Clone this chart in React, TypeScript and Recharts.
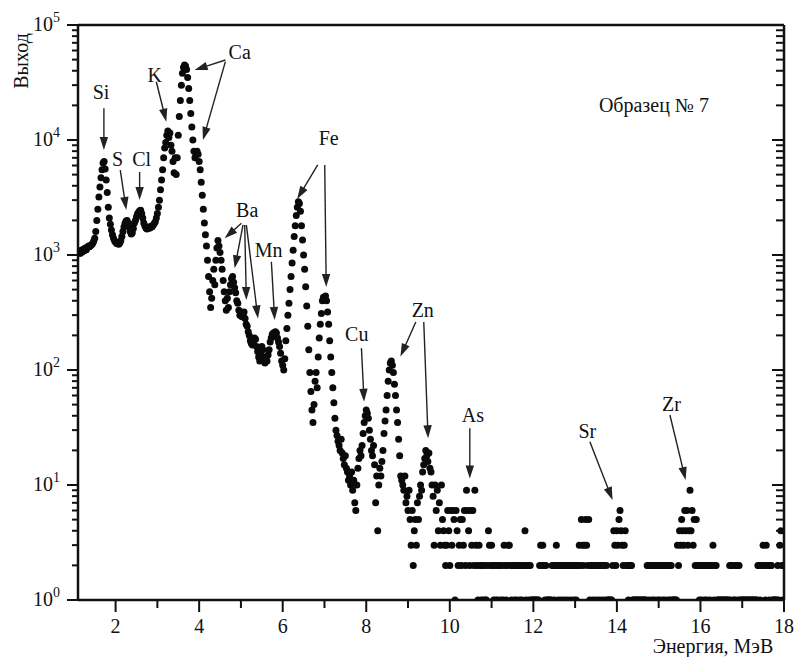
import React from 'react';
import { ScatterChart, Scatter, XAxis, YAxis, ReferenceLine, ReferenceDot } from 'recharts';

const FONT = 'Liberation Serif, Times New Roman, DejaVu Serif, serif';

// Detector calibration: first channel energy and channel width (MeV)
const E_FIRST = 1.1;
const E_STEP = 0.025;

// Counts per channel, grouped by 1 MeV
const counts_1_1 = [1050,1080,1030,1100,1060,1120,1090,1150,1110,1170,1200,1180,1210,1230,1260,1320,1400,1600,2000,2500,3200,3900,4700,5500,6300,6500,5600,4500,3500,2600,2100,1850,1650,1500,1400,1330];
const counts_2 = [1290,1260,1250,1240,1270,1330,1450,1600,1750,1880,1980,2000,1900,1750,1600,1520,1560,1700,1900,2000,2150,2280,2350,2420,2450,2300,2100,1900,1800,1720,1680,1700,1750,1720,1780,1760,1820,1880,1950,2100];
const counts_3 = [2300,2600,3000,3700,4500,5500,7000,8500,9500,11000,12000,10500,11500,9000,8000,6500,5200,7000,5000,7000,11000,16000,22000,30000,38000,43000,45000,44000,41000,35000,28000,22000,17000,13000,10000,8000,7000,7500,8000,7500];
const counts_4 = [6500,5500,4300,3300,2500,1900,1500,1200,900,650,480,350,420,600,750,550,900,1150,1340,1200,1050,900,750,600,480,400,330,420,350,480,550,620,650,580,520,470,400,380,330,300];
const counts_5 = [320,290,300,320,280,250,240,215,200,180,170,165,175,190,185,160,145,130,120,140,160,150,125,115,130,120,135,150,175,190,205,210,200,215,210,190,175,160,140,120];
const counts_6 = [110,100,125,180,230,300,380,500,650,850,1100,1450,1800,2200,2600,2900,2800,2400,1800,1350,1000,750,530,360,240,150,95,65,45,35,50,80,95,70,130,190,250,310,400,430];
const counts_7 = [420,440,400,320,250,180,130,95,70,52,38,30,27,24,22,20,25,19,17,15,18,14,13,11,12,10,13,9,11,7,6,10,14,17,20,18,22,28,35,40];
const counts_8 = [45,42,38,30,25,20,18,22,15,7,12,4,10,14,12,16,20,28,36,45,60,80,100,115,120,110,95,75,60,45,35,25,18,12,11,10,9,12,7,8];
const counts_9 = [6,9,5,3,6,2,4,5,3,7,5,8,10,9,13,15,17,20,18,16,19,14,13,10,8,3,10,6,9,4,7,3,10,5,4,3,2,3,6,4];
const counts_10 = [2,6,3,6,5,1,6,4,2,3,5,2,5,3,6,2,9,6,4,2,6,3,6,2,9,3,2,1,3,2,1,2,1,2,1,1,2,4,3,2];
const counts_11 = [3,2,1,2,1,2,1,2,2,1,2,1,3,2,1,2,3,3,2,1,2,2,1,2,1,2,2,1,2,1,2,2,4,1,2,2,1,2,1,1];
const counts_12 = [1,1,1,1,1,1,2,3,2,3,2,1,2,1,1,1,1,1,2,2,1,2,3,2,1,2,2,1,2,2,1,2,2,1,2,2,1,2,2,1];
const counts_13 = [2,1,2,2,3,2,5,3,2,3,5,3,2,5,1,2,2,1,2,2,1,2,2,1,2,2,1,2,2,1,2,1,1,1,1,1,2,4,3,2];
const counts_14 = [4,3,5,6,4,3,2,3,4,2,2,1,2,2,2,1,1,1,1,1,1,1,1,1,1,1,1,1,1,2,2,1,2,2,1,2,1,2,2,1];
const counts_15 = [2,1,2,2,1,2,1,2,2,1,2,1,2,1,1,1,1,1,3,2,4,3,5,4,3,6,4,6,3,4,9,4,6,3,5,2,5,2,2,1];
const counts_16 = [2,1,2,2,1,2,1,2,2,1,2,2,3,1,2,2,1,1,1,1,1,1,1,1,1,1,1,1,2,1,2,2,1,1,2,2,1,2,1,1];
const counts_17_18 = [1,1,1,1,1,1,1,1,1,1,1,1,1,1,1,2,2,1,2,2,3,2,1,3,2,2,1,2,2,1,1,1,1,1,2,1,3,4,2,1,2];

const allCounts = [
  ...counts_1_1, ...counts_2, ...counts_3, ...counts_4, ...counts_5, ...counts_6,
  ...counts_7, ...counts_8, ...counts_9, ...counts_10, ...counts_11, ...counts_12,
  ...counts_13, ...counts_14, ...counts_15, ...counts_16, ...counts_17_18,
];
const spectrum = allCounts.map((n, i) => ({ e: Math.round((E_FIRST + i * E_STEP) * 1000) / 1000, n }));

// Axis ticks
const xTicks = [2, 3, 4, 5, 6, 7, 8, 9, 10, 11, 12, 13, 14, 15, 16, 17, 18];
const xLabelled = [2, 4, 6, 8, 10, 12, 14, 16, 18];
const yDecades = [1, 10, 100, 1000, 10000, 100000];
const yMinorMultipliers = [2, 3, 4, 5, 6, 7, 8, 9];
const yTicks: number[] = [];
yDecades.forEach((d, i) => {
  yTicks.push(d);
  if (i < yDecades.length - 1) yMinorMultipliers.forEach((m) => yTicks.push(d * m));
});

// Annotations (data coordinates)
const elementNames = ['Si', 'S', 'Cl', 'K', 'Ca', 'Ba', 'Mn', 'Fe', 'Cu', 'Zn', 'As', 'Sr', 'Zr', 'Образец № 7'];
const elementLabelE = [1.653, 2.048, 2.623, 2.934, 4.97, 5.15, 5.665, 7.102, 7.772, 9.353, 10.551, 13.293, 15.305, 14.886];
const elementLabelN = [26400, 6900, 6900, 36700, 58800, 2460, 1105, 10500, 206, 333, 40.6, 29.2, 51.1, 20350];

const arrowFrom: [number, number][] = [
  [1.72, 18880], [2.112, 5480], [2.575, 5270], [2.975, 32100],
  [4.628, 49600], [4.628, 48000],
  [5.011, 1888], [5.05, 1824], [5.09, 1824], [5.13, 1824],
  [5.729, 875], [6.838, 6065], [7.006, 6065], [7.885, 155],
  [9.186, 261], [9.377, 261], [10.479, 31.1], [13.353, 23.8], [15.269, 40.6],
];
const arrowTo: [number, number][] = [
  [1.72, 8190], [2.256, 2460], [2.575, 3010], [3.214, 14430],
  [3.892, 40600], [4.091, 10000],
  [4.611, 1397], [4.85, 766], [5.13, 406], [5.408, 281],
  [5.808, 272], [6.347, 3070], [7.042, 527], [7.948, 53],
  [8.818, 131], [9.48, 25.5], [10.479, 11.4], [13.896, 7.41], [15.645, 11.05],
];

const INK = '#111';

const renderDot = (props: any) => {
  const { cx, cy } = props;
  if (cx == null || cy == null) return <g />;
  return <circle cx={cx} cy={cy} r={3.5} fill="#0a0a0a" />;
};

const BottomTick = (props: any) => {
  const { x, y, payload } = props;
  const v = payload.value;
  const major = xLabelled.includes(v);
  return (
    <g>
      <line x1={x} x2={x} y1={y} y2={y + (major ? 12 : 8)} stroke={INK} strokeWidth={2} />
      {major && (
        <text x={x} y={y + 33} textAnchor="middle" fontSize={20} style={{ fontFamily: FONT }} fill={INK}>
          {v}
        </text>
      )}
    </g>
  );
};

const TopTick = (props: any) => {
  const { x, y, payload } = props;
  const major = xLabelled.includes(payload.value);
  return <line x1={x} x2={x} y1={y} y2={y + (major ? 11 : 9)} stroke={INK} strokeWidth={2} />;
};

const isMajorY = (v: number) => yDecades.includes(v);

const LeftTick = (props: any) => {
  const { x, y, payload } = props;
  const v = payload.value;
  const major = isMajorY(v);
  const exp = Math.round(Math.log10(v));
  return (
    <g>
      <line x1={x - (major ? 11 : 6)} x2={x} y1={y} y2={y} stroke={INK} strokeWidth={2} />
      {major && (
        <text x={x - 18} y={y + 6} textAnchor="end" fontSize={20} style={{ fontFamily: FONT }} fill={INK}>
          10
          <tspan dy={-9} fontSize={14}>{exp}</tspan>
        </text>
      )}
    </g>
  );
};

const RightTick = (props: any) => {
  const { x, y, payload } = props;
  const major = isMajorY(payload.value);
  return <line x1={x - (major ? 12 : 8)} x2={x} y1={y} y2={y} stroke={INK} strokeWidth={2} />;
};

const arrowShape = (props: any) => {
  const { x1, y1, x2, y2 } = props;
  if ([x1, y1, x2, y2].some((v) => v == null || Number.isNaN(v))) return <g />;
  const dx = x2 - x1;
  const dy = y2 - y1;
  const len = Math.sqrt(dx * dx + dy * dy) || 1;
  const ux = dx / len;
  const uy = dy / len;
  const headL = 13;
  const headW = 4.2;
  const bx = x2 - ux * headL;
  const by = y2 - uy * headL;
  const px = -uy;
  const py = ux;
  const pts = `${x2},${y2} ${bx + px * headW},${by + py * headW} ${bx - px * headW},${by - py * headW}`;
  return (
    <g>
      <line x1={x1} y1={y1} x2={bx + ux * 2} y2={by + uy * 2} stroke="#222" strokeWidth={1.4} />
      <polygon points={pts} fill="#222" />
    </g>
  );
};

const makeLabelShape = (text: string) => (props: any) => {
  const { cx, cy } = props;
  if (cx == null || cy == null) return <g />;
  return (
    <text x={cx} y={cy} textAnchor="middle" dominantBaseline="central" fontSize={20} style={{ fontFamily: FONT }} fill={INK}>
      {text}
    </text>
  );
};

export default function App() {
  return (
    <div style={{ position: 'fixed', left: 0, top: 0, width: 798, height: 657, background: '#fff', fontFamily: FONT }}>
      <ScatterChart width={798} height={657} margin={{ top: 15, right: 6, bottom: 7, left: 0 }}>
        <XAxis
          xAxisId={0}
          dataKey="e"
          type="number"
          domain={[1.1, 18]}
          allowDataOverflow
          ticks={xTicks}
          interval={0}
          tickSize={0}
          tickMargin={0}
          tick={<BottomTick />}
          axisLine={{ stroke: INK, strokeWidth: 2.5 }}
          height={50}
        />
        <XAxis
          xAxisId="top"
          orientation="top"
          type="number"
          domain={[1.1, 18]}
          allowDataOverflow
          ticks={xTicks}
          interval={0}
          tickSize={0}
          tickMargin={0}
          tick={<TopTick />}
          axisLine={{ stroke: INK, strokeWidth: 2.5 }}
          height={10}
        />
        <YAxis
          yAxisId={0}
          dataKey="n"
          type="number"
          scale="log"
          domain={[1, 100000]}
          allowDataOverflow
          ticks={yTicks}
          interval={0}
          tickSize={0}
          tickMargin={0}
          tick={<LeftTick />}
          axisLine={{ stroke: INK, strokeWidth: 2.5 }}
          width={78}
        />
        <YAxis
          yAxisId="right"
          orientation="right"
          type="number"
          scale="log"
          domain={[1, 100000]}
          allowDataOverflow
          ticks={yTicks}
          interval={0}
          tickSize={0}
          tickMargin={0}
          tick={<RightTick />}
          axisLine={{ stroke: INK, strokeWidth: 2.5 }}
          width={8}
        />
        <Scatter data={spectrum} dataKey="n" shape={renderDot} isAnimationActive={false} />
        {arrowFrom.map((f, i) => (
          <ReferenceLine
            key={`arrow-${i}`}
            segment={[{ x: f[0], y: f[1] }, { x: arrowTo[i][0], y: arrowTo[i][1] }]}
            ifOverflow="visible"
            shape={arrowShape}
          />
        ))}
        {elementNames.map((name, i) => (
          <ReferenceDot
            key={`lbl-${i}`}
            x={elementLabelE[i]}
            y={elementLabelN[i]}
            r={1}
            ifOverflow="visible"
            shape={makeLabelShape(name)}
          />
        ))}
      </ScatterChart>
      <svg
        width={798}
        height={657}
        style={{ position: 'absolute', left: 0, top: 0, pointerEvents: 'none' }}
      >
        <text
          x={21}
          y={61}
          transform="rotate(-90, 21, 61)"
          textAnchor="middle"
          dominantBaseline="central"
          fontSize={20}
          style={{ fontFamily: FONT }}
          fill={INK}
        >
          Выход
        </text>
        <text x={713} y={653} textAnchor="middle" fontSize={20} style={{ fontFamily: FONT }} fill={INK}>
          Энергия, МэВ
        </text>
      </svg>
    </div>
  );
}
